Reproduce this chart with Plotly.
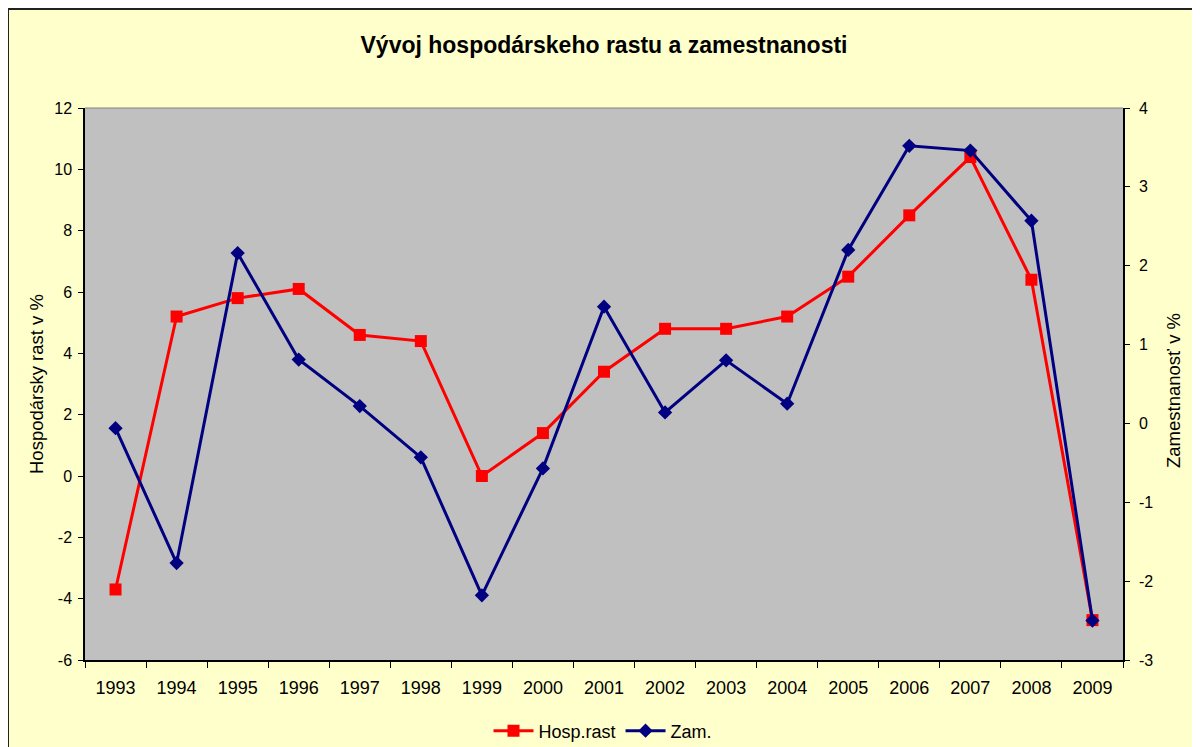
import plotly.graph_objects as go

years = ["1993", "1994", "1995", "1996", "1997", "1998", "1999", "2000", "2001",
         "2002", "2003", "2004", "2005", "2006", "2007", "2008", "2009"]
hosp_rast = [-3.7, 5.2, 5.8, 6.1, 4.6, 4.4, 0.0, 1.4, 3.4, 4.8, 4.8, 5.2, 6.5, 8.5, 10.4, 6.4, -4.7]
zam = [-0.06, -1.77, 2.16, 0.81, 0.22, -0.43, -2.18, -0.57, 1.48, 0.14, 0.80, 0.25, 2.2, 3.52, 3.46, 2.57, -2.5]

y1_ticks = [-6, -4, -2, 0, 2, 4, 6, 8, 10, 12]
y1_labels = ["-6", "-4", "-2", "0", "2", "4", "6", "8", "10", "12"]
y2_ticks = [-3, -2, -1, 0, 1, 2, 3, 4]
y2_labels = ["-3", "-2", "-1", "0", "1", "2", "3", "4"]

W, H = 1200, 770  # figure taller than the 747 window; the extra is clipped, as in the reference
OFF = 8  # page body margin
# plot area in figure pixels
L, R, T, B = 85 - OFF, 1123 - OFF, 108 - OFF, 660 - OFF


def px(sx):
    return (sx - OFF - L) / (R - L)


def py(sy):
    return (B - (sy - OFF)) / (B - T)


FONT = "Liberation Sans, Arial, sans-serif"

fig = go.Figure()
fig.add_trace(go.Scatter(
    x=years, y=hosp_rast, name="Hosp.rast", mode="lines+markers",
    line=dict(color="#FF0000", width=3),
    marker=dict(symbol="square", size=12, color="#FF0000"),
    yaxis="y"))
fig.add_trace(go.Scatter(
    x=years, y=zam, name="Zam.", mode="lines+markers",
    line=dict(color="#000080", width=3),
    marker=dict(symbol="diamond", size=11, color="#000080"),
    yaxis="y2"))

shapes = [
    # dark frame of the chart area (top and left edges)
    dict(type="line", xref="paper", yref="paper", x0=px(OFF), x1=px(W + OFF), y0=py(OFF + 1), y1=py(OFF + 1),
         line=dict(color="#222222", width=2), layer="above"),
    dict(type="line", xref="paper", yref="paper", x0=px(OFF), x1=px(OFF), y0=py(OFF + 1), y1=py(H + OFF),
         line=dict(color="#222222", width=2), layer="above"),
    # gray top border of plot area
    dict(type="line", xref="paper", yref="paper", x0=0, x1=1, y0=1, y1=1,
         line=dict(color="#808080", width=1), layer="above"),
]

annotations = [
    dict(text="Hospodársky rast v %", xref="paper", yref="paper", x=px(36), y=py(384),
         textangle=-90, showarrow=False, xanchor="center", yanchor="middle",
         font=dict(family=FONT, size=18.5, color="black")),
    dict(text="Zamestnanosť v %", xref="paper", yref="paper", x=px(1174), y=py(391),
         textangle=-90, showarrow=False, xanchor="center", yanchor="middle",
         font=dict(family=FONT, size=18.5, color="black")),
]

fig.update_layout(
    width=W, height=H,
    margin=dict(l=L, r=W - R, t=T, b=H - B, pad=0),
    paper_bgcolor="#FFFFCC",
    plot_bgcolor="#C0C0C0",
    font=dict(family=FONT, size=16, color="black"),
    title=dict(text="<b>Vývoj hospodárskeho rastu a zamestnanosti</b>",
               xref="paper", x=0.5, xanchor="center", y=1 - (45 - OFF) / H, yanchor="middle",
               font=dict(family=FONT, size=23, color="black")),
    xaxis=dict(type="category", range=[-0.5, len(years) - 0.5], tickson="boundaries",
               ticks="outside", ticklen=6,
               tickcolor="black", showline=True, linecolor="black", linewidth=1.5,
               showgrid=False, zeroline=False, tickfont=dict(size=18),
               ticklabelstandoff=11),
    yaxis=dict(range=[-6, 12], tickvals=y1_ticks, ticktext=y1_labels, ticks="outside",
               ticklen=5, tickcolor="black",
               showline=True, linecolor="black", linewidth=1.5, showgrid=False,
               zeroline=False, tickfont=dict(size=16), ticklabelstandoff=3),
    yaxis2=dict(range=[-3, 4], tickvals=y2_ticks, ticktext=y2_labels, overlaying="y",
                side="right", ticks="outside",
                ticklen=5, tickcolor="black", showline=True, linecolor="black",
                linewidth=1.5, showgrid=False, zeroline=False,
                tickfont=dict(size=16), ticklabelstandoff=6),
    legend=dict(orientation="h", x=px(603), xanchor="center", y=py(731), yanchor="middle",
                bgcolor="rgba(0,0,0,0)", font=dict(size=18), itemwidth=40,
                tracegroupgap=0),
    showlegend=True,
    shapes=shapes,
    annotations=annotations,
)

fig.write_html("out.html")
